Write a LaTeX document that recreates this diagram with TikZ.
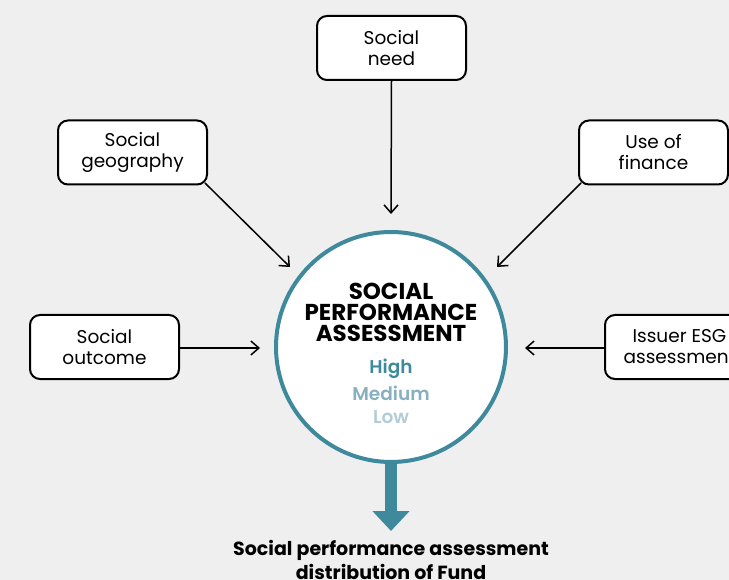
\documentclass[tikz,border=0pt]{standalone}
\usepackage{fontspec}
\setmainfont{Poppins}
\newfontfamily\semib{Poppins SemiBold}
\usetikzlibrary{arrows.meta}
\definecolor{bg}{RGB}{239,239,239}
\definecolor{teal}{RGB}{62,138,156}
\definecolor{tealmid}{RGB}{136,176,192}
\definecolor{teallight}{RGB}{178,204,216}
\tikzset{
  box/.style={draw=black, line width=2pt, rounded corners=10pt, fill=white, minimum width=149pt, minimum height=64pt, align=center, font=\fontsize{18.5}{21}\selectfont, inner sep=0pt},
  conn/.style={draw=black, line width=1.5pt, -{Straight Barb[length=8pt,width=14pt,line width=1.5pt]}},
  lvl/.style={font=\fontsize{18.5}{18}\semib\selectfont, inner sep=0pt},
}
\begin{document}
\begin{tikzpicture}[x=1pt,y=-1pt]
\path[fill=bg] (0,0) rectangle (729,580);
\useasboundingbox (0,0) rectangle (729,580);
\node[box] (need) at (391.5,48) {Social\\need};
\node[box] (geo) at (132.5,152.5) {Social\\geography};
\node[box] (fin) at (653.5,152.5) {Use of\\finance};
\node[box] (out) at (104.5,347) {Social\\outcome};
\node[box] (esg) at (679.5,347) {Issuer ESG\\assessment};
\node[circle, draw=teal, line width=4pt, fill=white, minimum size=230pt, inner sep=0pt] (c) at (391,347) {};
\node[align=center, font=\fontsize{23}{21}\bfseries\selectfont, inner sep=0pt] (title) at (391,312) {SOCIAL\\PERFORMANCE\\ASSESSMENT};
\node[lvl, text=teal] (hi) at (391,369) {High};
\node[lvl, text=tealmid] (me) at (391,393) {Medium};
\node[lvl, text=teallight] (lo) at (391,417) {Low};
\coordinate (t1) at (391,214);
\coordinate (t2) at (290,267);
\coordinate (t3) at (497,267);
\coordinate (t4) at (260,348);
\coordinate (t5) at (525,348);
\coordinate (g0) at (205,183);
\coordinate (f0) at (581,183);
\draw[conn] (need.south) -- (t1);
\draw[conn] (g0) -- (t2);
\draw[conn] (f0) -- (t3);
\draw[conn] (out.east |- t4) -- (t4);
\draw[conn] (esg.west |- t5) -- (t5);
\node[align=center, font=\fontsize{19}{24}\bfseries\selectfont, inner sep=0pt] (res) at (391,560) {Social performance assessment\\distribution of Fund};
\draw[teal, line width=12pt, -{Triangle[length=20pt,width=36pt]}] (c.south) -- (391,531);
\end{tikzpicture}
\end{document}
